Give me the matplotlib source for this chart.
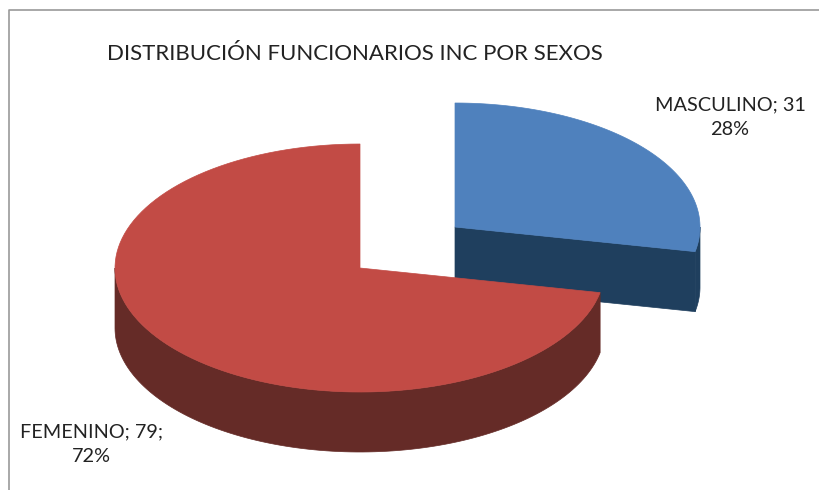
import numpy as np
import matplotlib
matplotlib.use("Agg")
import matplotlib.pyplot as plt
from matplotlib.patches import Polygon

categories = ["MASCULINO", "FEMENINO"]
values = [31, 79]
percents = ["28%", "72%"]
top_colors = ["#4F81BD", "#C24B45"]
side_colors = ["#1F3F5E", "#652B27"]

W, H = 819, 490
plt.rcParams["font.family"] = ["Lato", "DejaVu Sans"]

fig = plt.figure(figsize=(W / 100, H / 100), dpi=100)
ax = fig.add_axes([0, 0, 1, 1])
ax.set_xlim(0, W)
ax.set_ylim(H, 0)
ax.axis("off")

# squashed pie, angles run clockwise from 12 o'clock
rx, ry = 245, 124
depth = 60
total = sum(values)
sweep = [v / total * 2 * np.pi for v in values]


def ellipse(cx, cy, a0, a1, n=120):
    t = np.linspace(a0, a1, n)
    return cx + rx * np.sin(t), cy - ry * np.cos(t)


def draw_slice(cx, cy, a0, a1, top, side, z):
    # outer wall, only the part that faces the viewer
    lo = max(a0, np.pi / 2)
    hi = min(a1, 3 * np.pi / 2)
    if hi > lo:
        x, y = ellipse(cx, cy, lo, hi)
        wall = np.column_stack([np.r_[x, x[::-1]], np.r_[y, y[::-1] + depth]])
        ax.add_patch(Polygon(wall, fc=side, ec=side, lw=0.5, zorder=z))
    x, y = ellipse(cx, cy, a0, a1)
    # cut wall on the start edge of the blue slice
    if a0 == 0 and a1 < np.pi:
        xe, ye = x[-1], y[-1]
        cut = [(cx, cy), (xe, ye), (xe, ye + depth), (cx, cy + depth)]
        ax.add_patch(Polygon(cut, fc=side, ec=side, lw=0.5, zorder=z))
    top_pts = np.column_stack([np.r_[cx, x], np.r_[cy, y]])
    ax.add_patch(Polygon(top_pts, fc=top, ec=top, lw=0.5, zorder=z + 1))


draw_slice(455, 227, 0, sweep[0], top_colors[0], side_colors[0], 1)
draw_slice(360, 268, sweep[0], 2 * np.pi, top_colors[1], side_colors[1], 3)

ax.text(354.5, 54, "DISTRIBUCIÓN FUNCIONARIOS INC POR SEXOS", fontsize=16,
        color="#222222", ha="center", va="center")
ax.text(730, 117, f"{categories[0]}; {values[0]}\n{percents[0]}", fontsize=14.3,
        color="#222222", ha="center", va="center", linespacing=1.55)
ax.text(91, 444, f"{categories[1]}; {values[1]};\n{percents[1]}", fontsize=14.3,
        color="#222222", ha="center", va="center", linespacing=1.55)

# chart frame
ax.plot([9, 9, 819], [H, 10, 10], color="#9A9A9A", lw=1.2)

fig.savefig("out.png", dpi=100)
